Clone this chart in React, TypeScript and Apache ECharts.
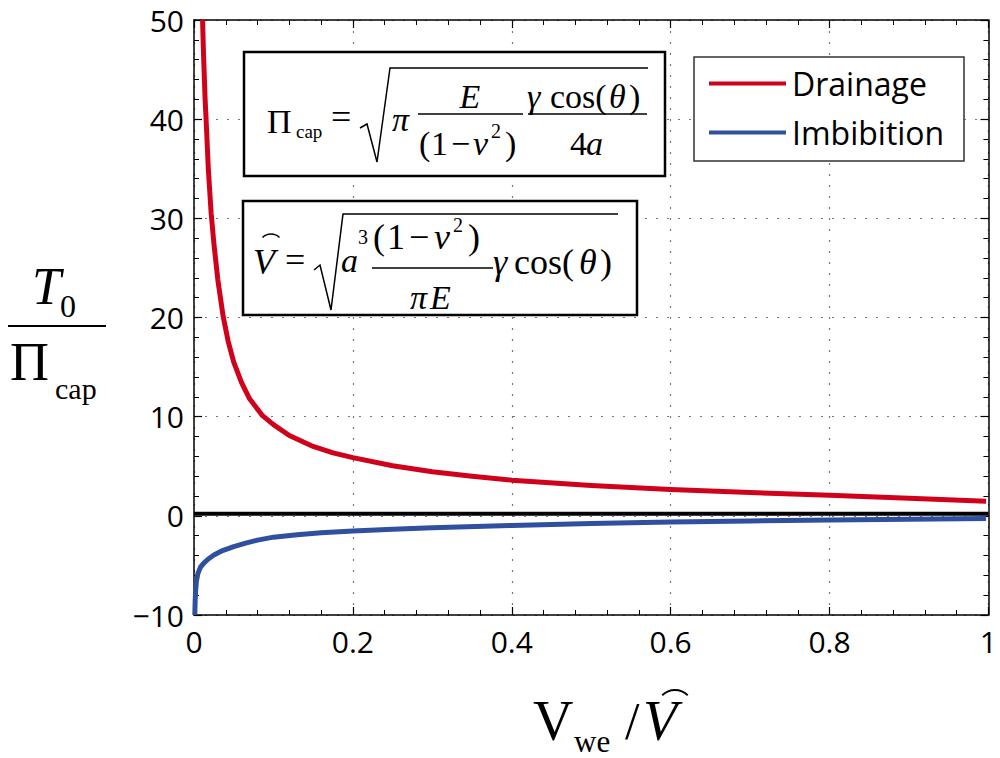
import React, { useEffect, useRef } from 'react';
import * as echarts from 'echarts';

// Data
const drainageX = [0.0108, 0.012, 0.014, 0.0158, 0.018, 0.0216, 0.025, 0.03, 0.0365, 0.043, 0.05, 0.06, 0.07, 0.0863, 0.1, 0.12, 0.15, 0.175, 0.2, 0.25, 0.3, 0.35, 0.4, 0.5, 0.6, 0.7, 0.8, 0.9, 0.997];
const drainageY = [50, 46.5, 42, 39, 35, 30.5, 27.5, 23.8, 20.2, 17.6, 15.5, 13.4, 11.8, 10.1, 9.2, 8.1, 7.0, 6.35, 5.87, 5.05, 4.45, 4.0, 3.6, 3.05, 2.65, 2.35, 2.07, 1.78, 1.46];
const imbibitionX = [0.001, 0.0015, 0.002, 0.003, 0.005, 0.008, 0.012, 0.018, 0.025, 0.036, 0.05, 0.065, 0.08, 0.1, 0.13, 0.16, 0.2, 0.25, 0.3, 0.4, 0.5, 0.6, 0.7, 0.8, 0.9, 0.997];
const imbibitionY = [-10, -8.5, -7.6, -6.6, -5.8, -5.2, -4.8, -4.35, -3.95, -3.5, -3.1, -2.75, -2.45, -2.15, -1.9, -1.7, -1.53, -1.35, -1.2, -0.97, -0.78, -0.63, -0.52, -0.43, -0.35, -0.28];
const zeroLineX = [0, 1];
const zeroLineY = [0.2, 0.2];
const seriesNames = ['Drainage', 'Imbibition'];
const xRange = [0, 1];
const yRange = [-10, 50];

const SERIF = '"Liberation Serif", "Times New Roman", serif';
const SANS = '"Open Sans", "Noto Sans", sans-serif';

function t(x: number, y: number, text: string, size: number, italic = false, align = 'left') {
  return {
    type: 'text', x, y, z: 51,
    style: {
      text, fontFamily: SERIF, fontSize: size, fontStyle: italic ? 'italic' : 'normal',
      fill: '#000', textAlign: align, textVerticalAlign: 'middle', align, verticalAlign: 'middle',
    },
  };
}
function ln(x1: number, y1: number, x2: number, y2: number, w = 1.5) {
  return { type: 'line', z: 51, shape: { x1, y1, x2, y2 }, style: { stroke: '#000', lineWidth: w } };
}
function poly(points: number[][], w = 1.5) {
  return { type: 'polyline', z: 51, shape: { points }, style: { stroke: '#000', lineWidth: w, fill: null } };
}
function hat(cx: number, cy: number, r: number, w = 1.5) {
  return { type: 'arc', z: 51, shape: { cx, cy, r, startAngle: Math.PI * 1.25, endAngle: Math.PI * 1.75 }, style: { stroke: '#000', lineWidth: w, fill: null } };
}
function box(x: number, y: number, width: number, height: number, w: number, stroke = '#000') {
  return { type: 'rect', z: 50, shape: { x, y, width, height }, style: { fill: '#fff', stroke, lineWidth: w } };
}

const zip = (a: number[], b: number[]) => a.map((v, i) => [v, b[i]]);

export default function App() {
  const ref = useRef<HTMLDivElement>(null);
  useEffect(() => {
    if (!ref.current) return;
    const chart = echarts.init(ref.current, undefined, { renderer: 'svg' });
    const axisCommon = {
      type: 'value',
      axisLine: { show: true, onZero: false, lineStyle: { color: '#000', width: 1.5 } },
      axisTick: { show: true, inside: true, length: 8, lineStyle: { color: '#000', width: 1.2 } },
      minorTick: { show: true, splitNumber: 5, length: 5, lineStyle: { color: '#000', width: 1 } },
    };
    const graphics: any[] = [
      // formula box 1
      box(244, 52, 421, 124, 2.5),
      t(267, 121, 'Π', 34),
      t(296, 131, 'cap', 19),
      t(331, 117, '=', 36),
      poly([[360, 128], [367, 124], [377, 162], [390, 68], [648, 68]]),
      t(392, 119, 'π', 34, true),
      t(470, 96, 'E', 34, true, 'center'),
      ln(418, 114, 523, 114),
      t(419, 143, '(', 34), t(431, 143, '1', 34), t(451, 143, '−', 34), t(473, 143, 'ν', 34, true), t(491, 131, '2', 20), t(505, 143, ')', 34),
      t(527, 96, 'γ', 34, true), t(550, 96, 'cos(', 34), t(609, 96, 'θ', 34, true), t(629, 96, ')', 34),
      ln(528, 114, 647, 114),
      t(570, 143, '4', 34), t(586, 143, 'a', 34, true),
      // formula box 2
      box(243, 201, 394, 114, 2.5),
      t(253, 262, 'V', 36, true),
      hat(271, 246, 12),
      t(285, 260, '=', 36),
      poly([[314, 270], [320, 265], [331, 310], [343, 214], [618, 214]]),
      t(341, 260, 'a', 34, true), t(358, 237, '3', 20),
      t(373, 237, '(', 36), t(387, 237, '1', 36), t(409, 237, '−', 36), t(434, 237, 'ν', 36, true), t(453, 225, '2', 20), t(468, 237, ')', 36),
      ln(372, 268, 493, 268),
      t(410, 297, 'π', 34, true), t(430, 297, 'E', 34, true),
      t(493, 262, 'γ', 36, true), t(514, 262, 'cos(', 36), t(579, 262, 'θ', 36, true), t(600, 262, ')', 36),
      // legend box
      box(694, 57, 270, 104, 1.5, '#333'),
      // y axis title
      t(32, 286, 'T', 52, true),
      t(60, 306, '0', 32),
      ln(8, 326, 106, 326, 2),
      t(10, 362, 'Π', 54),
      t(55, 388, 'cap', 30),
      // x axis title
      t(533, 721, 'V', 56),
      t(574, 741, 'we', 31),
      t(625, 721, '/', 52),
      t(643, 721, 'V', 56, true),
      hat(675, 708, 18, 2),
    ];
    chart.setOption({
      animation: false,
      backgroundColor: '#fff',
      grid: { left: 194, right: 3, top: 20, bottom: 143, containLabel: false },
      legend: {
        data: seriesNames,
        orient: 'vertical',
        left: 704, top: 62, z: 60,
        icon: 'rect', itemWidth: 77, itemHeight: 4, itemGap: 16,
        textStyle: { fontFamily: SANS, fontSize: 32, color: '#000', lineHeight: 33, padding: [0, 0, 0, 1] },
      },
      xAxis: [
        {
          ...axisCommon, position: 'bottom', min: xRange[0], max: xRange[1], interval: 0.2,
          axisLabel: { show: true, fontFamily: SANS, fontSize: 30, color: '#000', margin: 11,
            formatter: (v: number) => (v === 0 ? '0' : v === 1 ? '1' : v.toFixed(1)) },
          splitLine: { show: true, lineStyle: { color: '#777', type: [2, 9], width: 1.2 } },
        },
        {
          ...axisCommon, position: 'top', min: xRange[0], max: xRange[1], interval: 0.2,
          axisLabel: { show: false }, splitLine: { show: false },
        },
      ],
      yAxis: [
        {
          ...axisCommon, position: 'left', min: yRange[0], max: yRange[1], interval: 10,
          axisLabel: { show: true, fontFamily: SANS, fontSize: 30, color: '#000', margin: 10,
            formatter: (v: number) => (v < 0 ? '\u2212' + Math.abs(v) : String(v)) },
          splitLine: { show: true, lineStyle: { color: '#777', type: [2, 9], width: 1.2 } },
        },
        {
          ...axisCommon, position: 'right', min: yRange[0], max: yRange[1], interval: 10,
          axisLabel: { show: false }, splitLine: { show: false },
        },
      ],
      series: [
        {
          name: 'zero', type: 'line', data: zip(zeroLineX, zeroLineY), showSymbol: false, silent: true,
          lineStyle: { color: '#000', width: 4 }, z: 3,
        },
        {
          name: seriesNames[0], type: 'line', data: zip(drainageX, drainageY), showSymbol: false,
          smooth: false, color: '#d0021b', lineStyle: { color: '#d0021b', width: 5, join: 'round' }, z: 4,
        },
        {
          name: seriesNames[1], type: 'line', data: zip(imbibitionX, imbibitionY), showSymbol: false,
          smooth: false, color: '#2f4f9f', lineStyle: { color: '#2f4f9f', width: 5, join: 'round' }, z: 4,
        },
      ],
      graphic: { elements: graphics },
    });
    return () => chart.dispose();
  }, []);
  return <div ref={ref} style={{ position: 'fixed', left: 0, top: 0, width: 1000, height: 758 }} />;
}
